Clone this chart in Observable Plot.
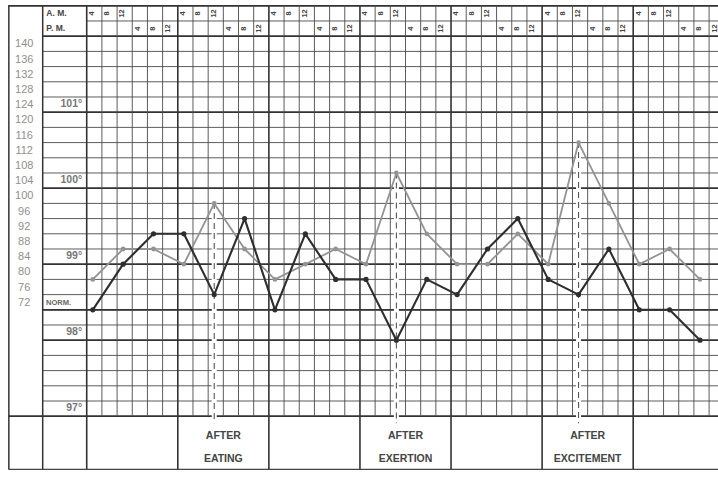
<!DOCTYPE html>
<html>
<head>
<meta charset="utf-8">
<script src="https://cdn.jsdelivr.net/npm/d3@7"></script>
<script src="https://cdn.jsdelivr.net/npm/@observablehq/plot@0.6"></script>
<style>
  html, body { margin: 0; padding: 0; background: #fff; }
  #chart svg { display: block; }
</style>
</head>
<body>
<div id="chart"></div>
<script>
// ---------- data ----------
const dayCount = 7;                                   // day blocks on the sheet
const hourLabels = ["4", "8", "12", "4", "8", "12"]; // hours within a day (A.M. x3, P.M. x3)
const halfDayLabels = ["A. M.", "P. M."];
const pulseTicks = [140, 136, 132, 128, 124, 120, 116, 112, 108, 104, 100, 96, 92, 88, 84, 80, 76, 72];
const tempTicks = [101, 100, 99, 98, 97];
const tempTickLabels = ["101°", "100°", "99°", "98°", "97°"];
const normalTemp = 98.4;
const normalLabel = "NORM.";

// readings: column (hour slot) of each reading on the sheet
const readingSlot = [0, 2, 4, 6, 8, 10, 12, 14, 16, 18, 20, 22, 24, 26, 28, 30, 32, 34, 36, 38, 40];
// pulse (grey line)
const pulse = [80, 88, 88, 84, 100, 88, 80, 84, 88, 84, 108, 92, 84, 84, 92, 84, 116, 100, 84, 88, 80];
// temperature °F (black line)
const temperature = [98.4, 99.0, 99.4, 99.4, 98.6, 99.6, 98.4, 99.4, 98.8, 98.8, 98.0, 98.8, 98.6, 99.2, 99.6, 98.8, 98.6, 99.2, 98.4, 98.4, 98.0];

// events written under the chart
const eventDay = [1, 3, 5];
const eventLine1 = ["AFTER", "AFTER", "AFTER"];
const eventLine2 = ["EATING", "EXERTION", "EXCITEMENT"];
const eventReading = [4, 10, 16]; // index of the reading marked with a dashed line

// ---------- derived tables ----------
const tempToPulse = t => 44 + (t - 97) * 20;   // 1 °F = 5 rows = 20 pulse units
const readings = readingSlot.map((s, i) => ({ slot: s, pulse: pulse[i], temp: temperature[i] }));
const headerCells = [];
for (let d = 0; d < dayCount; d++) hourLabels.forEach((h, s) => headerCells.push({ col: d * 6 + s, label: h, am: s < 3 }));
const gridRows = d3.range(44, 145, 4);
const heavyRows = [144, ...tempTicks.map(tempToPulse), tempToPulse(normalTemp)];
const dayLines = d3.range(0, dayCount * 6, 6);
const thinCols = d3.range(1, dayCount * 6).filter(c => c % 6 !== 0);
const events = eventDay.map((d, i) => ({ col: d * 6 + 3, l1: eventLine1[i], l2: eventLine2[i], r: readings[eventReading[i]] }));

const X_LEFT = -5.68, X_LABEL = -2.9;
const ink = "#4a4a4a";
const font = "Liberation Sans, Arial, sans-serif";

const chart = Plot.plot({
  width: 718,
  height: 477,
  marginTop: 0, marginBottom: 0, marginLeft: 0, marginRight: 0,
  x: { domain: [X_LEFT, 41.62], axis: null },
  y: { domain: [27.87, 153.39], axis: null },
  style: { background: "#fff", fontFamily: font },
  marks: [
    // horizontal grid lines (value column + chart)
    Plot.ruleY(gridRows.filter(r => !heavyRows.includes(r) && r !== 44), { y: d => d, x1: X_LABEL, x2: 41.62, stroke: ink, strokeWidth: 0.9 }),
    Plot.ruleY(heavyRows.filter(r => r !== 44), { y: d => d, x1: X_LABEL, x2: 41.62, stroke: "#333", strokeWidth: 1.7 }),
    Plot.ruleY([44, 152], { y: d => d, x1: -5.13, x2: 41.62, stroke: "#333", strokeWidth: 1.8 }),
    Plot.ruleY([148], { y: d => d, x1: 0, x2: 41.62, stroke: ink, strokeWidth: 0.9 }),
    Plot.ruleY([30], { y: d => d, x1: -5.13, x2: 41.62, stroke: "#444", strokeWidth: 1.4 }),
    // vertical lines
    Plot.ruleX(thinCols, { x: d => d, y1: 44, y2: 152, stroke: ink, strokeWidth: 0.9 }),
    Plot.ruleX(dayLines, { x: d => d, y1: 30, y2: 152, stroke: "#333", strokeWidth: 1.6 }),
    Plot.ruleX([X_LABEL, -5.13], { x: d => d, y1: 30, y2: 152, stroke: "#333", strokeWidth: 1.5 }),
    // dashed event markers
    Plot.ruleX(events, { x: d => d.r.slot + 0.4, y1: d => d.r.pulse, y2: 42, stroke: "#fff", strokeWidth: 5 }),
    Plot.ruleX(events, { x: d => d.r.slot + 0.4, y1: d => d.r.pulse, y2: 42, stroke: "#555", strokeWidth: 1.1, strokeDasharray: "6,4" }),
    // header
    Plot.text(headerCells, { x: d => d.col + 0.33, y: d => d.am ? 150 : 146, text: "label", rotate: -90, fontSize: 7.5, fontWeight: "bold", fill: "#444" }),
    Plot.text(halfDayLabels, { x: -2.66, y: (d, i) => i === 0 ? 150.1 : 146.1, text: d => d, textAnchor: "start", fontSize: 8.5, fontWeight: "bold", fill: "#444" }),
    // pulse labels
    Plot.text(pulseTicks, { x: -4.12, y: d => d + 2, text: d => String(d), fontSize: 11, fill: "#909090" }),
    // temperature labels
    Plot.text(tempTicks, { x: -0.3, y: d => tempToPulse(d) + 2.3, text: (d, i) => tempTickLabels[i], textAnchor: "end", fontSize: 10.5, fontWeight: "bold", fill: "#777" }),
    Plot.text([normalLabel], { x: -2.68, y: tempToPulse(normalTemp) + 2, text: d => d, textAnchor: "start", fontSize: 7.5, fontWeight: "bold", fill: "#666" }),
    // event captions
    Plot.text(events, { x: "col", y: 38.9, text: "l1", fontSize: 10.5, fill: "#444", fontWeight: "bold" }),
    Plot.text(events, { x: "col", y: 32.9, text: "l2", fontSize: 10.5, fill: "#444", fontWeight: "bold" }),
    // data lines
    Plot.line(readings, { x: d => d.slot + 0.4, y: "pulse", stroke: "#939393", strokeWidth: 1.8 }),
    Plot.dot(readings, { x: d => d.slot + 0.4, y: "pulse", r: 2.4, fill: "#939393" }),
    Plot.line(readings, { x: d => d.slot + 0.4, y: d => tempToPulse(d.temp), stroke: "#2e2e2e", strokeWidth: 2.1 }),
    Plot.dot(readings, { x: d => d.slot + 0.4, y: d => tempToPulse(d.temp), r: 2.6, fill: "#2e2e2e" })
  ]
});
document.getElementById("chart").appendChild(chart);
</script>
</body>
</html>
